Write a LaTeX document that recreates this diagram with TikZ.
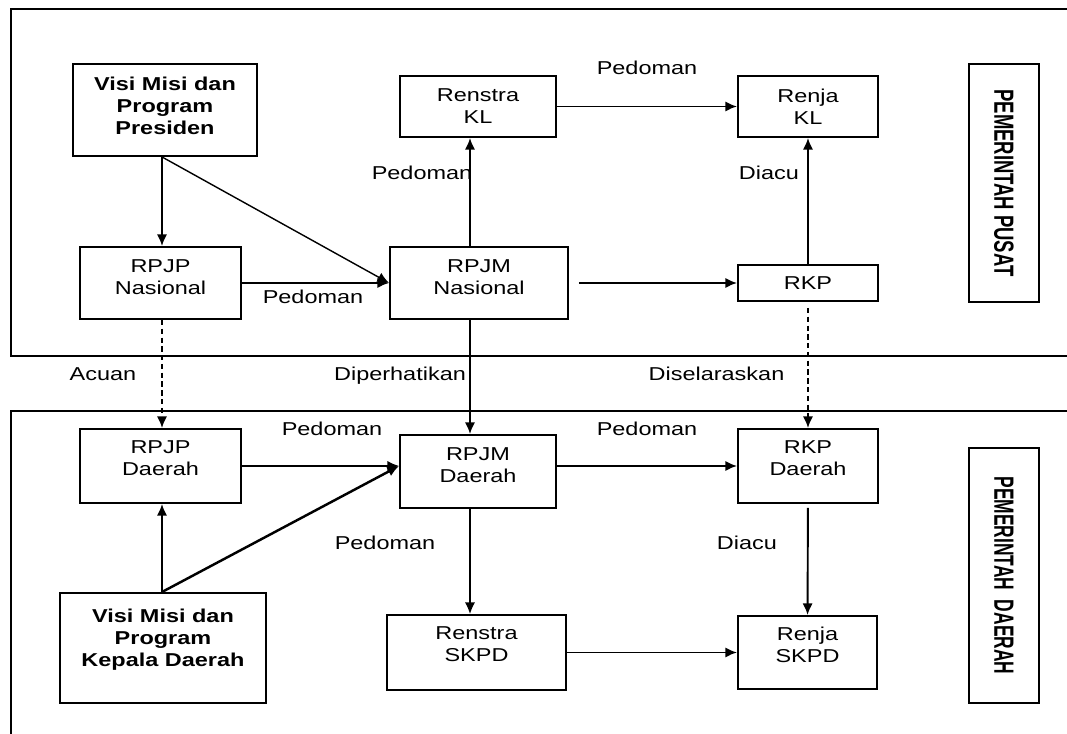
\documentclass[tikz,border=0pt]{standalone}
\usepackage{fontspec}
\setmainfont{Liberation Sans}[FakeStretch=1.26]
\newfontfamily\sidefont{Liberation Sans}
\usetikzlibrary{arrows.meta}
\newcommand\boxfont{\fontsize{5.3}{6.26}\selectfont}
\tikzset{
  box/.style={draw, line width=0.55pt, inner sep=0pt, align=center, font=\boxfont},
  boldbox/.style={box, font=\boxfont\bfseries},
  lift/.style={text depth=#1},
  sidebox/.style={draw, line width=0.55pt, inner sep=0pt, rotate=-90},
  lbl/.style={inner sep=0pt, anchor=base, font=\boxfont},
  link/.style={->, line width=0.55pt},
  dashlink/.style={->, line width=0.55pt, dash pattern=on 1.5pt off 1pt}
}
\begin{document}
\begin{tikzpicture}[>={Latex[length=3.3pt,width=2.9pt]}]
\useasboundingbox (0,0) rectangle (10.67,7.34);
% frames
\draw[line width=0.55pt] (0.11,3.78) rectangle (10.80,7.25);
\draw[line width=0.55pt] (0.11,-0.20) rectangle (10.80,3.23);
% pemerintah pusat
\node[boldbox, lift=0.08cm, minimum width=1.84cm, minimum height=0.92cm] (pres) at (1.65,6.24) {Visi Misi dan\\Program\\Presiden};
\node[box, lift=0.12cm, minimum width=1.61cm, minimum height=0.72cm] (rpjpn) at (1.605,4.51) {RPJP\\Nasional};
\node[box, minimum width=1.56cm, minimum height=0.61cm] (renstrakl) at (4.78,6.275) {Renstra\\KL};
\node[box, minimum width=1.40cm, minimum height=0.61cm] (renjakl) at (8.08,6.275) {Renja\\KL};
\node[box, lift=0.12cm, minimum width=1.78cm, minimum height=0.72cm] (rpjmn) at (4.79,4.51) {RPJM\\Nasional};
\node[box, minimum width=1.40cm, minimum height=0.36cm] (rkp) at (8.08,4.51) {RKP};
\node[sidebox, minimum width=2.38cm, minimum height=0.70cm, font=\sidefont\bfseries\fontsize{5.26}{6}\selectfont] (pusat) at (10.04,5.51) {\scalebox{1}[1.5]{PEMERINTAH PUSAT}};
% pemerintah daerah
\node[box, lift=0.16cm, minimum width=1.61cm, minimum height=0.74cm] (rpjpd) at (1.605,2.68) {RPJP\\Daerah};
\node[box, lift=0.12cm, minimum width=1.56cm, minimum height=0.73cm] (rpjmd) at (4.78,2.625) {RPJM\\Daerah};
\node[box, lift=0.16cm, minimum width=1.40cm, minimum height=0.74cm] (rkpd) at (8.08,2.68) {RKP\\Daerah};
\node[boldbox, lift=0.2cm, minimum width=2.06cm, minimum height=1.10cm] (kepala) at (1.63,0.86) {Visi Misi dan\\Program\\Kepala Daerah};
\node[box, lift=0.16cm, minimum width=1.79cm, minimum height=0.75cm] (renstraskpd) at (4.765,0.815) {Renstra\\SKPD};
\node[box, lift=0.16cm, minimum width=1.39cm, minimum height=0.73cm] (renjaskpd) at (8.075,0.815) {Renja\\SKPD};
\node[sidebox, minimum width=2.55cm, minimum height=0.70cm, font=\sidefont\bfseries\fontsize{4.95}{6}\selectfont] (daerah) at (10.04,1.585) {\scalebox{1}[1.6]{PEMERINTAH\ \ DAERAH}};
% columns
\coordinate (lcol) at (1.62,0);
\coordinate (mcol) at (4.70,0);
% arrows
\draw[link] (pres.south -| lcol) -- (rpjpn.north -| lcol);
\draw[link, line width=0.4pt] (pres.south -| lcol) -- (rpjmn.west);
\draw[link] (rpjpn) -- (rpjmn);
\draw[link] (rpjmn.north -| mcol) -- (renstrakl.south -| mcol);
\draw[link] (renstrakl) -- (renjakl);
\draw[link, shorten <=0.1cm] (rpjmn) -- (rkp);
\draw[link] (rkp) -- (renjakl);
\draw[dashlink, shorten <=0.06cm] (rkp) -- (rkpd);
\draw[dashlink] (rpjpn.south -| lcol) -- (rpjpd.north -| lcol);
\draw[link] (rpjmn.south -| mcol) -- (rpjmd.north -| mcol);
\draw[link, line width=0.4pt] (rpjpd.east) -- (rpjpd.east -| rpjmd.west);
\draw[link, line width=0.7pt] (kepala.north -| lcol) -- (rpjpd.east -| rpjmd.west);
\draw[link] (kepala.north -| lcol) -- (rpjpd.south -| lcol);
\draw[link, line width=0.4pt] (rpjmd.south -| mcol) -- (renstraskpd.north -| mcol);
\draw[link] (rpjmd.east |- rkpd) -- (rkpd);
\draw[link, shorten <=0.04cm] (rkpd) -- (renjaskpd);
\draw[link] (renstraskpd) -- (renjaskpd);
% labels
\node[lbl] (l1) at (6.47,6.595) {Pedoman};
\node[lbl] (l2) at (4.22,5.545) {Pedoman};
\node[lbl] (l3) at (7.69,5.545) {Diacu};
\node[lbl] (l4) at (3.13,4.305) {Pedoman};
\node[lbl] (l5) at (1.03,3.535) {Acuan};
\node[lbl] (l6) at (4.00,3.535) {Diperhatikan};
\node[lbl] (l7) at (7.165,3.535) {Diselaraskan};
\node[lbl] (l8) at (3.32,2.985) {Pedoman};
\node[lbl] (l9) at (6.47,2.985) {Pedoman};
\node[lbl] (l10) at (3.85,1.845) {Pedoman};
\node[lbl] (l11) at (7.47,1.845) {Diacu};
\end{tikzpicture}
\end{document}
